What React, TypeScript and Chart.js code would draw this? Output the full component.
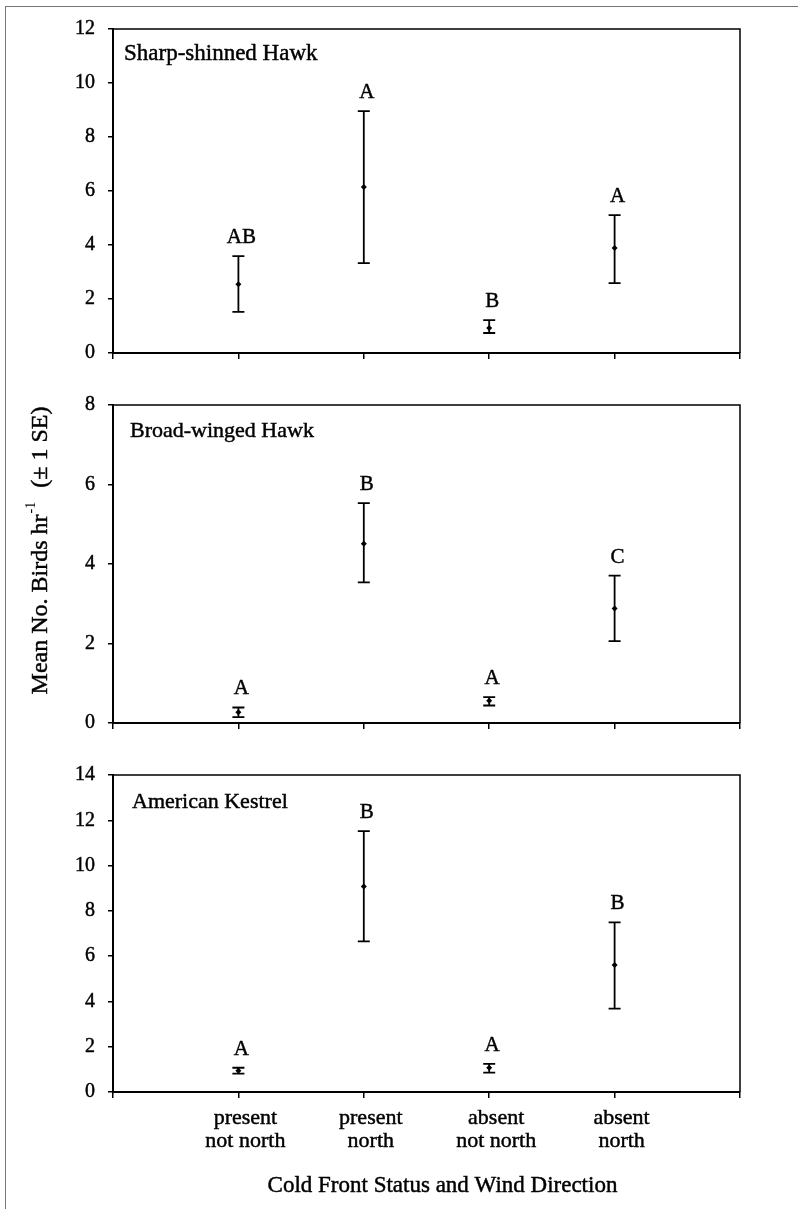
import React, { useEffect, useRef } from "react";
import { Chart, registerables } from "chart.js";

Chart.register(...registerables);

const FONT = "'Liberation Serif', 'Times New Roman', Times, serif";

// ---- data ----
const categories: string[][] = [
  ["present", "not north"],
  ["present", "north"],
  ["absent", "not north"],
  ["absent", "north"],
];
const categoryPositions = [1, 2, 3, 4];

const sharpMean = [2.55, 6.15, 0.93, 3.89];
const sharpLow = [1.52, 3.33, 0.74, 2.59];
const sharpHigh = [3.59, 8.96, 1.22, 5.11];
const sharpLetters = ["AB", "A", "B", "A"];
const sharpMax = 12;

const broadMean = [0.27, 4.51, 0.56, 2.88];
const broadLow = [0.15, 3.54, 0.44, 2.06];
const broadHigh = [0.39, 5.53, 0.65, 3.71];
const broadLetters = ["A", "B", "A", "C"];
const broadMax = 8;

const kestrelMean = [0.94, 9.08, 1.07, 5.61];
const kestrelLow = [0.81, 6.65, 0.86, 3.68];
const kestrelHigh = [1.07, 11.52, 1.24, 7.49];
const kestrelLetters = ["A", "B", "A", "B"];
const kestrelMax = 14;

const yStep = 2;
const xTitle = "Cold Front Status and Wind Direction";
const yTitleMain = "Mean No. Birds hr";
const yTitleSup = "-1";
const yTitleTail = "  (\u00B1 1 SE)";

type Panel = {
  title: string;
  titleSize: number;
  titleDx: number;
  titleDy: number;
  mean: number[];
  low: number[];
  high: number[];
  letters: string[];
  max: number;
  top: number;
  height: number;
  padTop: number;
  xAxisHeight: number;
  showXLabels: boolean;
  showXTitle: boolean;
  showYTitle: boolean;
};

const panels: Panel[] = [
  {
    title: "Sharp-shinned Hawk", titleSize: 23, titleDx: 11, titleDy: 31,
    mean: sharpMean, low: sharpLow, high: sharpHigh, letters: sharpLetters, max: sharpMax,
    top: 0, height: 380, padTop: 29, xAxisHeight: 27,
    showXLabels: false, showXTitle: false, showYTitle: false,
  },
  {
    title: "Broad-winged Hawk", titleSize: 22, titleDx: 17, titleDy: 32,
    mean: broadMean, low: broadLow, high: broadHigh, letters: broadLetters, max: broadMax,
    top: 380, height: 370, padTop: 13, xAxisHeight: 27,
    showXLabels: false, showXTitle: false, showYTitle: true,
  },
  {
    title: "American Kestrel", titleSize: 22, titleDx: 19, titleDy: 33,
    mean: kestrelMean, low: kestrelLow, high: kestrelHigh, letters: kestrelLetters, max: kestrelMax,
    top: 750, height: 459, padTop: 15, xAxisHeight: 117,
    showXLabels: true, showXTitle: true, showYTitle: false,
  },
];

const STROKE = 0.45;

function drawText(ctx: CanvasRenderingContext2D, t: string, x: number, y: number) {
  ctx.fillText(t, x, y);
  ctx.strokeText(t, x, y);
}

function PanelChart({ p }: { p: Panel }) {
  const ref = useRef<HTMLCanvasElement>(null);

  useEffect(() => {
    const canvas = ref.current;
    if (!canvas) return;

    const decor = {
      id: "decor" + p.title.replace(/\W/g, ""),
      beforeDatasetsDraw(chart: any) {
        const { ctx, chartArea, scales } = chart;
        const x = scales.x;
        const y = scales.y;
        ctx.save();
        // box top & right
        ctx.strokeStyle = "#000";
        ctx.lineWidth = 1.5;
        ctx.beginPath();
        ctx.moveTo(chartArea.left, chartArea.top);
        ctx.lineTo(chartArea.right, chartArea.top);
        ctx.lineTo(chartArea.right, chartArea.bottom);
        ctx.stroke();
        // error bars
        const cap = 6;
        categoryPositions.forEach((pos, i) => {
          const px = x.getPixelForValue(pos);
          const yl = y.getPixelForValue(p.low[i]);
          const yh = y.getPixelForValue(p.high[i]);
          ctx.lineWidth = 1.8;
          ctx.beginPath();
          ctx.moveTo(px, yl);
          ctx.lineTo(px, yh);
          ctx.moveTo(px - cap, yl);
          ctx.lineTo(px + cap, yl);
          ctx.moveTo(px - cap, yh);
          ctx.lineTo(px + cap, yh);
          ctx.stroke();
          // significance letters
          ctx.fillStyle = "#000";
          ctx.lineWidth = STROKE;
          ctx.font = `21px ${FONT}`;
          ctx.textAlign = "center";
          ctx.textBaseline = "alphabetic";
          drawText(ctx, p.letters[i], px + 3, yh - 13);
        });
        ctx.lineWidth = STROKE;
        // panel title
        ctx.font = `${p.titleSize}px ${FONT}`;
        ctx.textAlign = "left";
        ctx.textBaseline = "alphabetic";
        drawText(ctx, p.title, chartArea.left + p.titleDx, chartArea.top + p.titleDy);

        if (p.showXTitle) {
          ctx.font = `23px ${FONT}`;
          ctx.textAlign = "center";
          drawText(ctx, xTitle, (chartArea.left + chartArea.right) / 2 + 16, chartArea.bottom + 100);
        }
        if (p.showYTitle) {
          ctx.translate(41, chartArea.top + 146);
          ctx.rotate(-Math.PI / 2);
          ctx.textBaseline = "middle";
          ctx.textAlign = "left";
          const mainFont = `24px ${FONT}`;
          const supFont = `14px ${FONT}`;
          ctx.font = mainFont;
          const w1 = ctx.measureText(yTitleMain).width;
          const w3 = ctx.measureText(yTitleTail).width;
          ctx.font = supFont;
          const w2 = ctx.measureText(yTitleSup).width + 2;
          const total = w1 + w2 + w3;
          let cx = -total / 2;
          ctx.font = mainFont;
          drawText(ctx, yTitleMain, cx, 0);
          cx += w1 + 1;
          ctx.font = supFont;
          ctx.fillText(yTitleSup, cx, -10);
          cx += w2;
          ctx.font = mainFont;
          drawText(ctx, yTitleTail, cx, 0);
        }
        ctx.restore();
      },
    };

    const chart = new Chart(canvas, {
      type: "scatter",
      data: {
        datasets: [
          {
            data: categoryPositions.map((pos, i) => ({ x: pos, y: p.mean[i] })),
            pointStyle: "rectRot",
            pointRadius: 3,
            backgroundColor: "#000",
            borderColor: "#000",
            borderWidth: 0,
            showLine: false,
          },
        ],
      },
      options: {
        responsive: false,
        animation: false,
        events: [],
        layout: { padding: { left: 0, right: 58, top: p.padTop, bottom: 0 } },
        plugins: { legend: { display: false }, tooltip: { enabled: false } },
        scales: {
          x: {
            type: "linear",
            min: 0,
            max: 5,
            afterFit: (s: any) => { s.height = p.xAxisHeight; },
            grid: { drawOnChartArea: false, drawTicks: true, tickLength: 6, color: "#000", lineWidth: 1.5 },
            border: { display: true, color: "#000", width: 2 },
            ticks: {
              stepSize: 1,
              autoSkip: false,
              maxRotation: 0,
              padding: 9,
              labelOffset: 7,
              color: "#000",
              textStrokeColor: "#000",
              textStrokeWidth: STROKE,
              font: { family: FONT, size: 22, lineHeight: 1.05 },
              callback: (v: any) => {
                const i = categoryPositions.indexOf(Number(v));
                return p.showXLabels && i >= 0 ? categories[i] : "";
              },
            },
          },
          y: {
            type: "linear",
            min: 0,
            max: p.max,
            afterFit: (s: any) => { s.width = 113; },
            grid: { drawOnChartArea: false, drawTicks: true, tickLength: 5, color: "#000", lineWidth: 1.5 },
            border: { display: true, color: "#000", width: 2 },
            ticks: {
              stepSize: yStep,
              padding: 13,
              color: "#000",
              textStrokeColor: "#000",
              textStrokeWidth: STROKE,
              font: { family: FONT, size: 20 },
            },
          },
        },
      },
      plugins: [decor],
    } as any);

    return () => chart.destroy();
  }, [p]);

  return (
    <canvas
      ref={ref}
      width={798}
      height={p.height}
      style={{ position: "absolute", left: 0, top: p.top, display: "block" }}
    />
  );
}

export default function App() {
  return (
    <div style={{ position: "relative", width: 798, height: 1209, background: "#fff", overflow: "hidden" }}>
      <style>{"body{margin:0;background:#fff;}"}</style>
      <div
        style={{
          position: "absolute",
          left: 5,
          top: 6,
          width: 900,
          height: 1300,
          borderLeft: "1px solid #777",
          borderTop: "1px solid #777",
        }}
      />
      {panels.map((p) => (
        <PanelChart key={p.title} p={p} />
      ))}
    </div>
  );
}
